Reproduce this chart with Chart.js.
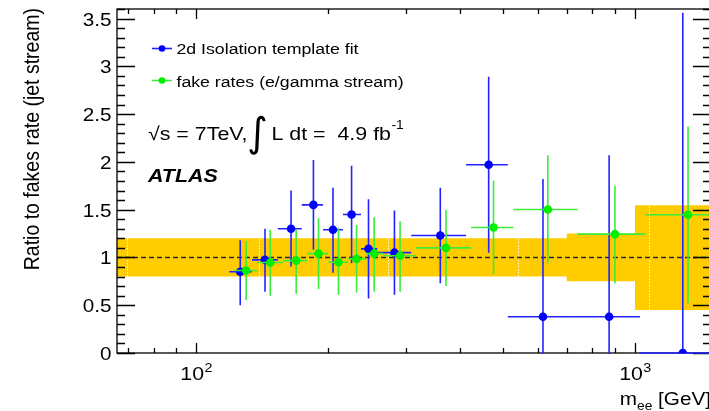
<!DOCTYPE html>
<html>
<head>
<meta charset="utf-8">
<script src="https://cdn.jsdelivr.net/npm/chart.js@4.4.1/dist/chart.umd.min.js"></script>
<style>
    html, body {margin: 0; padding: 0; overflow: hidden; background: #fff;}
</style>
</head>
<body>
<canvas id="myChart" width="725" height="411"></canvas>
<script>
// 2d Isolation template fit (blue)
const isoMass = [126, 143.5, 164.5, 185, 205, 226, 247, 283, 360, 464, 617, 873, 1285];
const isoBinLo = [119, 134, 153.5, 174, 194.5, 216, 237.5, 258.5, 309, 412, 513, 718, 1026];
const isoBinHi = [134, 153.5, 174, 194.5, 216, 237.5, 258.5, 309, 412, 513, 718, 1026, 2000];
const isoRatio = [0.85, 0.975, 1.30, 1.55, 1.29, 1.45, 1.09, 1.05, 1.23, 1.97, 0.38, 0.38, 0.0];
const isoErrLo = [0.50, 0.64, 0.905, 1.08, 0.84, 0.94, 0.57, 0.61, 0.73, 1.05, -0.5, -0.5, 0.0];
const isoErrHi = [1.18, 1.30, 1.70, 2.02, 1.73, 1.96, 1.61, 1.49, 1.73, 2.89, 1.82, 2.07, 3.56];

// fake rates (e/gamma stream) (green)
const fakeMass = [130, 147.5, 169, 190, 211, 232, 254.5, 291.5, 371, 476, 633, 900, 1321];
const fakeBinLo = [122.3, 137.7, 158, 179, 200, 222, 244, 267, 317, 423, 528, 740, 1055];
const fakeBinHi = [137.7, 158, 179, 200, 222, 244, 267, 317, 423, 528, 740, 1055, 2000];
const fakeRatio = [0.863, 0.947, 0.967, 1.04, 0.95, 0.985, 1.04, 1.017, 1.10, 1.313, 1.502, 1.244, 1.447];
const fakeErrLo = [0.555, 0.60, 0.62, 0.67, 0.61, 0.63, 0.64, 0.64, 0.70, 0.825, 0.94, 0.73, 0.52];
const fakeErrHi = [1.17, 1.29, 1.29, 1.41, 1.31, 1.34, 1.42, 1.38, 1.50, 1.806, 2.07, 1.75, 2.37];

// systematic band
const bandEdges = [66, 699, 1000, 1490];
const bandHigh = [1.2, 1.25, 1.545];
const bandLow = [0.8, 0.75, 0.45];
const bandSeams = [69.5, 138.7, 274, 541, 1077];

// axes
const xMin = 66, xMax = 1490, yMin = 0, yMax = 3.6;
const yTickValues = [0, 0.5, 1, 1.5, 2, 2.5, 3, 3.5];
const yTickLabels = ['0', '0.5', '1', '1.5', '2', '2.5', '3', '3.5'];
const xMajorTicks = [100, 1000];
const xTickExponents = ['2', '3'];
const xMinorTicks = [70, 80, 90, 200, 300, 400, 500, 600, 700, 800, 900];

const FONT = '"Liberation Sans", Arial, Helvetica, sans-serif';
const SX = 1.15;   // text in the original looks stretched sideways

const BLUE = 'rgb(0,0,255)';
const BLUE_BAR = 'rgb(35,35,255)';
const GREEN = 'rgb(0,240,0)';
const GREEN_BAR = 'rgb(60,235,60)';
const GOLD = 'rgb(255,204,0)';

function stepPoints(edges, values) {
    let pts = [];
    for (let i = 0; i < values.length; i++) {
        pts.push({x: edges[i], y: values[i]});
        pts.push({x: edges[i + 1], y: values[i]});
    }
    return pts;
}

function toPoints(xs, ys) {
    return xs.map((x, i) => ({x: x, y: ys[i]}));
}

// text with horizontal stretch, returns drawn width
function drawText(ctx, s, x, y, size, style, align) {
    ctx.save();
    ctx.font = (style || '') + ' ' + size + 'px ' + FONT;
    ctx.fillStyle = '#000';
    ctx.textBaseline = 'alphabetic';
    ctx.textAlign = align || 'left';
    ctx.translate(x, y);
    ctx.scale(SX, 1);
    ctx.fillText(s, 0, 0);
    let w = ctx.measureText(s).width * SX;
    ctx.restore();
    return w;
}

function textWidth(ctx, s, size, style) {
    ctx.save();
    ctx.font = (style || '') + ' ' + size + 'px ' + FONT;
    let w = ctx.measureText(s).width * SX;
    ctx.restore();
    return w;
}

const errorBars = {
    id: 'errorBars',
    beforeDatasetDraw(chart, args) {
        const ds = chart.data.datasets[args.index];
        const ctx = chart.ctx;
        const xs = chart.scales.x, ys = chart.scales.y;
        const area = chart.chartArea;
        if (ds.frameBefore) {
            drawFrame(chart);
        }
        if (!ds.err) return;
        ctx.save();
        ctx.beginPath();
        ctx.rect(area.left, area.top, area.right - area.left, area.bottom - area.top + 1);
        ctx.clip();
        ctx.strokeStyle = ds.err.color;
        ctx.lineWidth = 1.6;
        for (let i = 0; i < ds.data.length; i++) {
            const px = xs.getPixelForValue(ds.data[i].x);
            const py = ys.getPixelForValue(ds.data[i].y);
            ctx.beginPath();
            ctx.moveTo(xs.getPixelForValue(ds.err.lo[i]), py);
            ctx.lineTo(xs.getPixelForValue(ds.err.hi[i]), py);
            ctx.moveTo(px, ys.getPixelForValue(ds.err.down[i]));
            ctx.lineTo(px, ys.getPixelForValue(ds.err.up[i]));
            ctx.stroke();
        }
        ctx.restore();
    }
};

// ROOT style frame with ticks inside
function drawFrame(chart) {
    const ctx = chart.ctx;
    const a = chart.chartArea;
    const xs = chart.scales.x, ys = chart.scales.y;
    ctx.save();
    ctx.strokeStyle = '#000';
    ctx.lineWidth = 1.3;
    ctx.strokeRect(a.left, a.top, a.right - a.left, a.bottom - a.top);
    ctx.beginPath();
    for (let v = 0; v <= yMax + 1e-9; v += 0.1) {
        const major = Math.abs(v * 2 - Math.round(v * 2)) < 1e-6;
        const len = major ? 18 : 8;
        const py = Math.round(ys.getPixelForValue(v)) + 0.5;
        ctx.moveTo(a.left, py); ctx.lineTo(a.left + len, py);
        ctx.moveTo(a.right, py); ctx.lineTo(a.right - len, py);
    }
    xMajorTicks.forEach(v => {
        const px = Math.round(xs.getPixelForValue(v)) + 0.5;
        ctx.moveTo(px, a.bottom); ctx.lineTo(px, a.bottom - 10);
        ctx.moveTo(px, a.top); ctx.lineTo(px, a.top + 10);
    });
    xMinorTicks.forEach(v => {
        const px = Math.round(xs.getPixelForValue(v)) + 0.5;
        ctx.moveTo(px, a.bottom); ctx.lineTo(px, a.bottom - 5);
        ctx.moveTo(px, a.top); ctx.lineTo(px, a.top + 5);
    });
    ctx.stroke();
    ctx.restore();
}

const labelsPlugin = {
    id: 'labelsPlugin',
    afterDraw(chart) {
        const ctx = chart.ctx;
        const xs = chart.scales.x, ys = chart.scales.y;

        // y tick labels
        yTickValues.forEach((v, i) => {
            drawText(ctx, yTickLabels[i], 111.5, ys.getPixelForValue(v) + 7, 18, '', 'right');
        });

        // x tick labels 10^n
        xMajorTicks.forEach((v, i) => {
            const w1 = textWidth(ctx, '10', 18.5);
            const w2 = textWidth(ctx, xTickExponents[i], 12.5);
            const left = xs.getPixelForValue(v) - (w1 + w2) / 2;
            drawText(ctx, '10', left, 380, 18.5);
            drawText(ctx, xTickExponents[i], left + w1 + 0.5, 372, 12.5);
        });

        // x title
        let wM = textWidth(ctx, 'm', 18);
        let wSub = textWidth(ctx, 'ee', 12);
        let wRest = textWidth(ctx, ' [GeV]', 18);
        let x0 = 711 - (wM + wSub + wRest);
        drawText(ctx, 'm', x0, 405, 18);
        drawText(ctx, 'ee', x0 + wM, 410, 12);
        drawText(ctx, ' [GeV]', x0 + wM + wSub, 405, 18);

        // y title
        ctx.save();
        ctx.font = '19.5px ' + FONT;
        ctx.fillStyle = '#000';
        ctx.translate(38.5, 8);
        ctx.scale(SX, 1);
        ctx.rotate(-Math.PI / 2);
        ctx.textAlign = 'right';
        ctx.fillText('Ratio to fakes rate (jet stream)', 0, 0);
        ctx.restore();

        // legend
        const legendRows = [
            {y: 48.5, color: BLUE, bar: BLUE_BAR, text: '2d Isolation template fit', base: 54.3},
            {y: 80.5, color: GREEN, bar: GREEN_BAR, text: 'fake rates (e/gamma stream)', base: 86.7}
        ];
        legendRows.forEach(r => {
            ctx.save();
            ctx.strokeStyle = r.bar;
            ctx.lineWidth = 1.6;
            ctx.beginPath();
            ctx.moveTo(152, r.y); ctx.lineTo(172, r.y);
            ctx.stroke();
            ctx.fillStyle = r.color;
            ctx.beginPath();
            ctx.arc(162, r.y, 3.3, 0, Math.PI * 2);
            ctx.fill();
            ctx.restore();
            drawText(ctx, r.text, 176.5, r.base, 15.4);
        });

        // energy and luminosity
        drawText(ctx, '\u221As = 7TeV,', 148, 140, 18.6);
        ctx.save();
        ctx.font = '40px "DejaVu Sans", ' + FONT;
        ctx.fillStyle = '#000';
        ctx.fillText('\u222B', 247, 146);
        ctx.restore();
        let w2 = drawText(ctx, 'L dt =  4.9 fb', 271.5, 140, 18.6);
        drawText(ctx, '-1', 271.5 + w2 + 0.5, 129, 12);

        drawText(ctx, 'ATLAS', 148, 181.5, 18.6, 'italic bold');
    }
};

// white seams inside the band
const seamsPlugin = {
    id: 'seams',
    afterDatasetDraw(chart, args) {
        const ds = chart.data.datasets[args.index];
        if (!ds.seams) return;
        const ctx = chart.ctx;
        const xs = chart.scales.x, ys = chart.scales.y;
        ctx.save();
        ctx.strokeStyle = 'rgba(255,255,255,0.9)';
        ctx.lineWidth = 1;
        ctx.setLineDash([1.5, 1.5]);
        bandSeams.forEach(s => {
            let k = 0;
            while (k < bandEdges.length - 2 && s > bandEdges[k + 1]) k++;
            const px = Math.round(xs.getPixelForValue(s)) + 0.5;
            ctx.beginPath();
            ctx.moveTo(px, ys.getPixelForValue(bandLow[k]));
            ctx.lineTo(px, ys.getPixelForValue(bandHigh[k]));
            ctx.stroke();
        });
        ctx.restore();
    }
};

const ctx = document.getElementById('myChart').getContext('2d');
const chart = new Chart(ctx, {
    type: 'scatter',
    data: {
        datasets: [{
            label: 'fake rates (e/gamma stream)',
            data: toPoints(fakeMass, fakeRatio),
            backgroundColor: GREEN,
            borderWidth: 0,
            pointRadius: 4.3,
            err: {lo: fakeBinLo, hi: fakeBinHi, down: fakeErrLo, up: fakeErrHi, color: GREEN_BAR}
        }, {
            label: '2d Isolation template fit',
            data: toPoints(isoMass, isoRatio),
            backgroundColor: BLUE,
            borderWidth: 0,
            pointRadius: 4.3,
            frameBefore: true,
            err: {lo: isoBinLo, hi: isoBinHi, down: isoErrLo, up: isoErrHi, color: BLUE_BAR}
        }, {
            label: 'ref',
            type: 'line',
            data: [{x: xMin, y: 1}, {x: xMax, y: 1}],
            borderColor: '#2a2a2a',
            borderWidth: 1.5,
            borderDash: [5, 3],
            pointRadius: 0,
            fill: false
        }, {
            label: 'band high',
            type: 'line',
            data: stepPoints(bandEdges, bandHigh),
            borderWidth: 0,
            borderColor: GOLD,
            backgroundColor: GOLD,
            pointRadius: 0,
            fill: '+1',
            seams: true
        }, {
            label: 'band low',
            type: 'line',
            data: stepPoints(bandEdges, bandLow),
            borderWidth: 0,
            borderColor: GOLD,
            pointRadius: 0,
            fill: false
        }]
    },
    options: {
        responsive: false,
        animation: false,
        layout: {padding: {left: 117, top: 9, right: 725 - 711, bottom: 411 - 353}},
        plugins: {
            legend: {display: false},
            tooltip: {enabled: false}
        },
        scales: {
            x: {type: 'logarithmic', min: xMin, max: xMax, display: false},
            y: {type: 'linear', min: yMin, max: yMax, display: false}
        }
    },
    plugins: [errorBars, seamsPlugin, labelsPlugin]
});
</script>
</body>
</html>
